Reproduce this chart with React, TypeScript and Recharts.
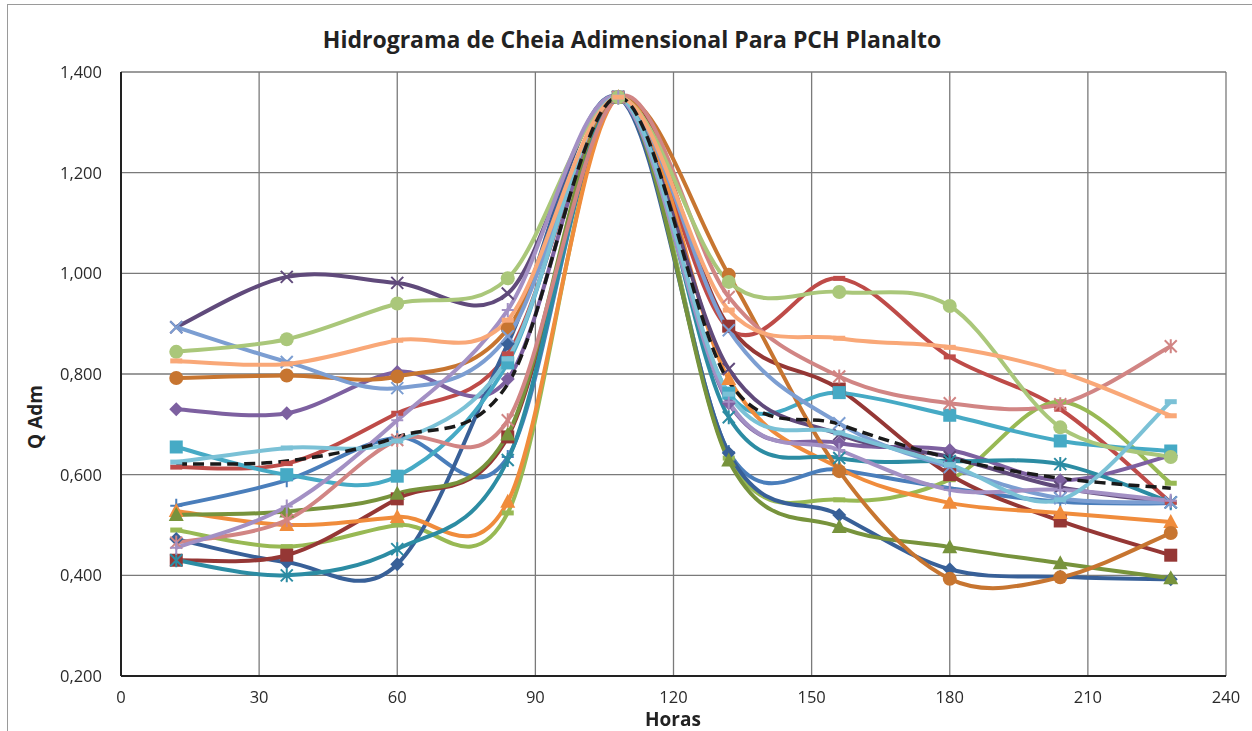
import React from "react";
import { LineChart, Line, XAxis, YAxis, CartesianGrid } from "recharts";

// horas (eixo x)
const horas = [12, 36, 60, 84, 108, 132, 156, 180, 204, 228];

// Q adimensional de cada série
const azul = [0.538, 0.589, 0.674, 0.635, 1.35, 0.645, 0.61, 0.573, 0.546, 0.543];
const vermelho = [0.615, 0.622, 0.722, 0.84, 1.35, 0.89, 0.99, 0.834, 0.73, 0.545];
const vinho = [0.43, 0.44, 0.552, 0.675, 1.35, 0.895, 0.77, 0.6, 0.508, 0.44];
const oliva = [0.52, 0.527, 0.562, 0.68, 1.35, 0.628, 0.496, 0.456, 0.424, 0.394];
const verde = [0.49, 0.457, 0.5, 0.524, 1.35, 0.633, 0.55, 0.59, 0.745, 0.583];
const verdeClaro = [0.844, 0.869, 0.94, 0.99, 1.35, 0.983, 0.963, 0.935, 0.694, 0.635];
const roxo = [0.73, 0.722, 0.804, 0.79, 1.35, 0.742, 0.663, 0.649, 0.589, 0.638];
const roxoEscuro = [0.893, 0.993, 0.981, 0.96, 1.35, 0.81, 0.68, 0.635, 0.575, 0.545];
const lilas = [0.455, 0.537, 0.708, 0.927, 1.35, 0.745, 0.649, 0.57, 0.57, 0.548];
const ciano = [0.655, 0.6, 0.597, 0.822, 1.35, 0.762, 0.763, 0.718, 0.667, 0.647];
const petroleo = [0.43, 0.4, 0.452, 0.629, 1.35, 0.714, 0.633, 0.627, 0.621, 0.545];
const cianoClaro = [0.625, 0.653, 0.667, 0.83, 1.35, 0.76, 0.683, 0.62, 0.55, 0.745];
const laranja = [0.528, 0.5, 0.516, 0.546, 1.35, 0.79, 0.613, 0.544, 0.524, 0.506];
const laranjaEscuro = [0.792, 0.797, 0.795, 0.89, 1.35, 0.997, 0.607, 0.393, 0.396, 0.484];
const laranjaClaro = [0.826, 0.82, 0.867, 0.907, 1.35, 0.927, 0.871, 0.853, 0.804, 0.717];
const azulEscuro = [0.472, 0.426, 0.422, 0.86, 1.35, 0.643, 0.52, 0.412, 0.397, 0.392];
const azulClaro = [0.893, 0.824, 0.772, 0.875, 1.35, 0.887, 0.702, 0.615, 0.553, 0.545];
const rosa = [0.465, 0.51, 0.669, 0.708, 1.35, 0.953, 0.795, 0.742, 0.74, 0.855];
const media = [0.621, 0.627, 0.675, 0.78, 1.35, 0.785, 0.7, 0.633, 0.593, 0.573];

const xTicks = [0, 30, 60, 90, 120, 150, 180, 210, 240];
const yTicks = [0.2, 0.4, 0.6, 0.8, 1.0, 1.2, 1.4];

const series = [
  { key: "azul", values: azul, color: "#4A7EBB", marker: "plus" },
  { key: "vermelho", values: vermelho, color: "#BE4B48", marker: "dash" },
  { key: "verde", values: verde, color: "#98B954", marker: "dash" },
  { key: "roxo", values: roxo, color: "#7D60A0", marker: "diamond" },
  { key: "azulEscuro", values: azulEscuro, color: "#386098", marker: "diamond" },
  { key: "vinho", values: vinho, color: "#953735", marker: "square" },
  { key: "ciano", values: ciano, color: "#46AAC5", marker: "square" },
  { key: "laranja", values: laranja, color: "#F08C3C", marker: "triangle" },
  { key: "oliva", values: oliva, color: "#77933C", marker: "triangle" },
  { key: "roxoEscuro", values: roxoEscuro, color: "#604A7B", marker: "x" },
  { key: "petroleo", values: petroleo, color: "#2C8CA3", marker: "star" },
  { key: "laranjaEscuro", values: laranjaEscuro, color: "#C77530", marker: "circle" },
  { key: "azulClaro", values: azulClaro, color: "#7C9ED2", marker: "x" },
  { key: "rosa", values: rosa, color: "#D18584", marker: "star" },
  { key: "verdeClaro", values: verdeClaro, color: "#AAC77A", marker: "circle" },
  { key: "lilas", values: lilas, color: "#A390C4", marker: "plus" },
  { key: "cianoClaro", values: cianoClaro, color: "#7BC1D6", marker: "dash" },
  { key: "laranjaClaro", values: laranjaClaro, color: "#F9A878", marker: "dash" },
];

const data = horas.map((h, i) => {
  const row: Record<string, number> = { h };
  series.forEach((s) => (row[s.key] = s.values[i]));
  row.media = media[i];
  return row;
});

// suavização tipo Excel (Catmull-Rom)
function catmullRom(context: any) {
  let pts: number[][] = [];
  return {
    areaStart() {},
    areaEnd() {},
    lineStart() {
      pts = [];
    },
    point(x: number, y: number) {
      pts.push([+x, +y]);
    },
    lineEnd() {
      const n = pts.length;
      if (!n) return;
      context.moveTo(pts[0][0], pts[0][1]);
      for (let i = 0; i < n - 1; i++) {
        const p0 = pts[i - 1] || pts[i];
        const p1 = pts[i];
        const p2 = pts[i + 1];
        const p3 = pts[i + 2] || p2;
        context.bezierCurveTo(
          p1[0] + (p2[0] - p0[0]) / 6,
          p1[1] + (p2[1] - p0[1]) / 6,
          p2[0] - (p3[0] - p1[0]) / 6,
          p2[1] - (p3[1] - p1[1]) / 6,
          p2[0],
          p2[1]
        );
      }
    },
  };
}

function makeDot(shape: string, color: string) {
  return (p: any) => {
    const { cx, cy, index } = p;
    const k = `${shape}-${index}`;
    if (cx == null || cy == null) return <g key={k} />;
    switch (shape) {
      case "diamond":
        return <path key={k} d={`M${cx},${cy - 7}L${cx + 7},${cy}L${cx},${cy + 7}L${cx - 7},${cy}Z`} fill={color} />;
      case "square":
        return <rect key={k} x={cx - 6.5} y={cy - 6.5} width={13} height={13} fill={color} />;
      case "triangle":
        return <path key={k} d={`M${cx},${cy - 8}L${cx + 7.5},${cy + 6}L${cx - 7.5},${cy + 6}Z`} fill={color} />;
      case "circle":
        return <circle key={k} cx={cx} cy={cy} r={7} fill={color} />;
      case "x":
        return (
          <path key={k} d={`M${cx - 6},${cy - 6}L${cx + 6},${cy + 6}M${cx - 6},${cy + 6}L${cx + 6},${cy - 6}`} stroke={color} strokeWidth={2} />
        );
      case "star":
        return (
          <path
            key={k}
            d={`M${cx - 6},${cy - 6}L${cx + 6},${cy + 6}M${cx - 6},${cy + 6}L${cx + 6},${cy - 6}M${cx},${cy - 7}L${cx},${cy + 7}`}
            stroke={color}
            strokeWidth={2}
          />
        );
      case "plus":
        return <path key={k} d={`M${cx - 6},${cy}L${cx + 6},${cy}M${cx},${cy - 7}L${cx},${cy + 7}`} stroke={color} strokeWidth={2} />;
      case "dash":
        return <rect key={k} x={cx - 6} y={cy - 2.5} width={12} height={5} fill={color} />;
      default:
        return <g key={k} />;
    }
  };
}

const fmt = (v: number) => v.toFixed(3).replace(".", ",");
const font = "'Open Sans', 'Noto Sans', sans-serif";

export default function App() {
  return (
    <div style={{ position: "fixed", left: 0, top: 0, width: 1252, height: 731, background: "#fff", fontFamily: font }}>
      <div style={{ position: "absolute", left: 7, top: 4, right: -2, bottom: -2, border: "1px solid #9a9a9a" }} />
      <div
        style={{
          position: "absolute",
          left: 0,
          width: 1264,
          top: 23,
          textAlign: "center",
          fontWeight: 700,
          fontSize: 23,
          color: "#222",
        }}
      >
        Hidrograma de Cheia Adimensional Para PCH Planalto
      </div>
      <div
        style={{
          position: "absolute",
          left: 35,
          top: 417,
          transform: "translate(-50%, -50%) rotate(-90deg)",
          fontWeight: 700,
          fontSize: 19,
          color: "#222",
          whiteSpace: "nowrap",
        }}
      >
        Q Adm
      </div>
      <div
        style={{
          position: "absolute",
          left: 673,
          top: 719,
          transform: "translate(-50%, -50%)",
          fontWeight: 700,
          fontSize: 19,
          color: "#222",
        }}
      >
        Horas
      </div>
      <div style={{ position: "absolute", left: 0, top: 0 }}>
        <LineChart width={1252} height={731} data={data} margin={{ top: 72, right: 26, bottom: 25, left: 60 }}>
          <CartesianGrid stroke="#7a7a7a" strokeWidth={1.3} />
          <XAxis
            dataKey="h"
            type="number"
            domain={[0, 240]}
            ticks={xTicks}
            height={30}
            tickLine={false}
            axisLine={{ stroke: "#222", strokeWidth: 2 }}
            tick={{ fill: "#2a2a2a", fontSize: 16.5, fontFamily: font }}
            tickMargin={9}
          />
          <YAxis
            type="number"
            domain={[0.2, 1.4]}
            ticks={yTicks}
            width={61}
            tickLine={false}
            axisLine={{ stroke: "#222", strokeWidth: 2 }}
            tick={{ fill: "#2a2a2a", fontSize: 16.5, fontFamily: font }}
            tickFormatter={fmt}
            tickMargin={13}
          />
          {series.map((s) => (
            <Line
              key={s.key}
              dataKey={s.key}
              type={catmullRom as any}
              stroke={s.color}
              strokeWidth={4}
              dot={makeDot(s.marker, s.color)}
              activeDot={false}
              isAnimationActive={false}
            />
          ))}
          <Line
            dataKey="media"
            type={catmullRom as any}
            stroke="#1a1a1a"
            strokeWidth={3.5}
            strokeDasharray="11 6"
            dot={false}
            activeDot={false}
            isAnimationActive={false}
          />
        </LineChart>
      </div>
    </div>
  );
}
